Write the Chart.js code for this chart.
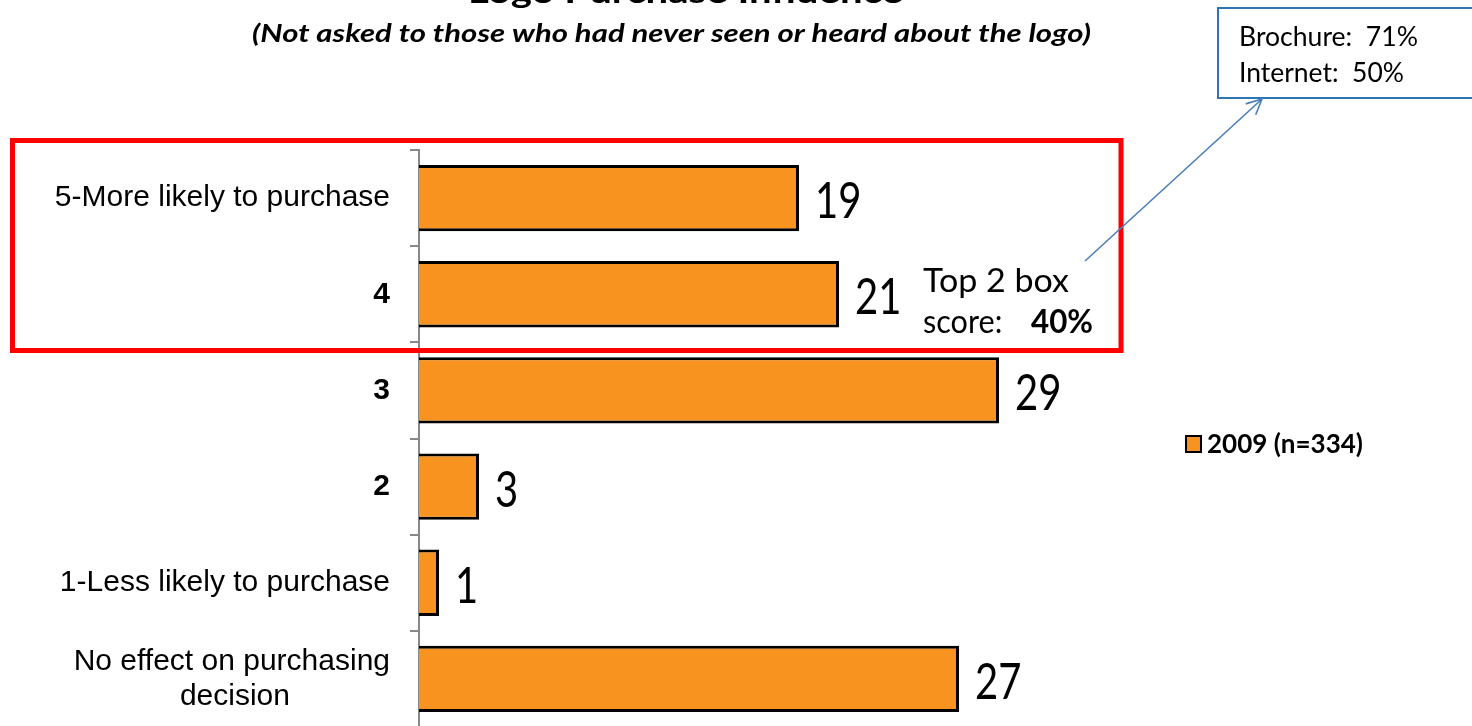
<!DOCTYPE html>
<html>
<head>
<meta charset="utf-8">
<script src="https://cdn.jsdelivr.net/npm/chart.js@4.4.1/dist/chart.umd.min.js"></script>
<style>
  html, body { margin: 0; padding: 0; background: #fff; overflow: hidden; width: 1472px; height: 726px; }
  canvas { display: block; }
</style>
</head>
<body>
<canvas id="chart" width="1472" height="730"></canvas>
<script>
// ---- data ----
const categories = [
  '5-More likely to purchase',
  '4',
  '3',
  '2',
  '1-Less likely to purchase',
  ['No effect on purchasing', 'decision']
];
const seriesLabel = '2009 (n=334)';
const seriesValues = [19, 21, 29, 3, 1, 27];
const chartTitle = 'Logo Purchase Influence';
const chartSubtitle = '(Not asked to those who had never seen or heard about the logo)';
const calloutLines = ['Brochure:  71%', 'Internet:  50%'];
const topBoxCaption = ['Top 2 box', 'score:  '];
const topBoxScore = seriesValues[0] + seriesValues[1];

// ---- styles ----
const BAR_COLOR = '#F7931E';
const AXIS_GRAY = '#888888';
const LABEL_FONT = '"Liberation Sans", Arial, sans-serif';
const CALIBRI_LIKE = 'Lato, "Open Sans", sans-serif';

// centre the lines of a multi-line label within its own block, while the
// block itself stays right-aligned against the axis
const measureCtx = document.createElement('canvas').getContext('2d');
function centerLines(lines, font) {
  measureCtx.font = font;
  const widths = lines.map(l => measureCtx.measureText(l).width);
  const maxW = Math.max(...widths);
  const sp = measureCtx.measureText('\u00A0').width;
  return lines.map((l, i) => l + '\u00A0'.repeat(Math.round((maxW - widths[i]) / 2 / sp)));
}

// draw text squeezed/stretched horizontally to a given width
function fitText(ctx, text, x, y, font, width, align) {
  ctx.save();
  ctx.font = font;
  const w = ctx.measureText(text).width;
  const s = width ? width / w : 1;
  ctx.translate(x, y);
  ctx.scale(s, 1);
  ctx.textAlign = align || 'left';
  ctx.textBaseline = 'alphabetic';
  ctx.fillText(text, 0, 0);
  ctx.restore();
}

const overlayPlugin = {
  id: 'overlay',
  afterDraw(chart) {
    const ctx = chart.ctx;
    ctx.save();
    ctx.fillStyle = '#000';

    // headings
    fitText(ctx, chartTitle, 468, 3, 'bold 32px ' + CALIBRI_LIKE, 435);
    fitText(ctx, chartSubtitle, 252, 42, 'italic 700 25px ' + CALIBRI_LIKE, 839);

    // value labels at the end of each bar
    const meta = chart.getDatasetMeta(0);
    meta.data.forEach((bar, i) => {
      ctx.save();
      ctx.font = '50px ' + CALIBRI_LIKE;
      ctx.translate(bar.x + 16, bar.y + 20);
      ctx.scale(0.8, 1);
      ctx.textAlign = 'left';
      ctx.fillText(String(chart.data.datasets[0].data[i]), 0, 0);
      ctx.restore();
    });

    // highlight frame around the top two categories
    ctx.strokeStyle = '#FF0000';
    ctx.lineWidth = 5;
    ctx.strokeRect(12.5, 140.5, 1108.5, 210);

    // top-2 caption
    fitText(ctx, topBoxCaption[0], 923, 292, '33px ' + CALIBRI_LIKE, 146);
    fitText(ctx, topBoxCaption[1], 923, 333, '33px ' + CALIBRI_LIKE, 95);
    fitText(ctx, topBoxScore + '%', 1031, 333, 'bold 33px ' + CALIBRI_LIKE, 62);

    // callout box with pointer
    ctx.strokeStyle = '#2E75B6';
    ctx.lineWidth = 2;
    ctx.strokeRect(1218, 8, 300, 90);
    fitText(ctx, calloutLines[0], 1239, 46, '26px ' + CALIBRI_LIKE, 179);
    fitText(ctx, calloutLines[1], 1239, 82, '26px ' + CALIBRI_LIKE, 165);

    const x0 = 1085, y0 = 261, x1 = 1262, y1 = 99;
    ctx.strokeStyle = '#4A7EBB';
    ctx.lineWidth = 1.6;
    ctx.beginPath();
    ctx.moveTo(x0, y0);
    ctx.lineTo(x1, y1);
    const ang = Math.atan2(y1 - y0, x1 - x0);
    const len = 17, spread = 0.45;
    ctx.moveTo(x1 - len * Math.cos(ang - spread), y1 - len * Math.sin(ang - spread));
    ctx.lineTo(x1, y1);
    ctx.lineTo(x1 - len * Math.cos(ang + spread), y1 - len * Math.sin(ang + spread));
    ctx.stroke();

    // legend
    const ds = chart.data.datasets[0];
    ctx.fillStyle = ds.backgroundColor;
    ctx.fillRect(1186, 436, 15, 16);
    ctx.strokeStyle = '#000';
    ctx.lineWidth = 2;
    ctx.strokeRect(1186, 436, 15, 16);
    ctx.fillStyle = '#000';
    fitText(ctx, ds.label, 1207, 453, 'bold 26px ' + CALIBRI_LIKE, 156);

    ctx.restore();
  }
};

const tickLabels = categories.map(c =>
  Array.isArray(c) ? centerLines(c, '30px ' + LABEL_FONT) : c);

new Chart(document.getElementById('chart'), {
  type: 'bar',
  data: {
    labels: tickLabels,
    datasets: [{
      label: seriesLabel,
      data: seriesValues,
      backgroundColor: BAR_COLOR,
      borderColor: '#000',
      borderWidth: 3,
      barPercentage: 0.69,
      categoryPercentage: 1
    }]
  },
  options: {
    indexAxis: 'y',
    responsive: false,
    animation: false,
    layout: { padding: { top: 150, right: 253, bottom: 3, left: 0 } },
    plugins: {
      legend: { display: false },
      title: { display: false },
      tooltip: { enabled: false }
    },
    scales: {
      x: { display: false, min: 0, max: 40 },
      y: {
        afterFit(scale) {
          scale.width = 419;
          scale.paddingTop = 0;
          scale.paddingBottom = 0;
        },
        border: { display: true, color: AXIS_GRAY, width: 2 },
        grid: {
          display: true,
          drawOnChartArea: false,
          drawTicks: true,
          tickLength: 9,
          offset: true,
          color: AXIS_GRAY,
          lineWidth: 2
        },
        ticks: {
          padding: 20,
          color: '#000',
          font: (ctx) => ({
            family: LABEL_FONT,
            size: 30,
            weight: String(categories[ctx.index]).length === 1 ? 'bold' : 'normal',
            lineHeight: 1.17
          })
        }
      }
    }
  },
  plugins: [overlayPlugin]
});
</script>
</body>
</html>
